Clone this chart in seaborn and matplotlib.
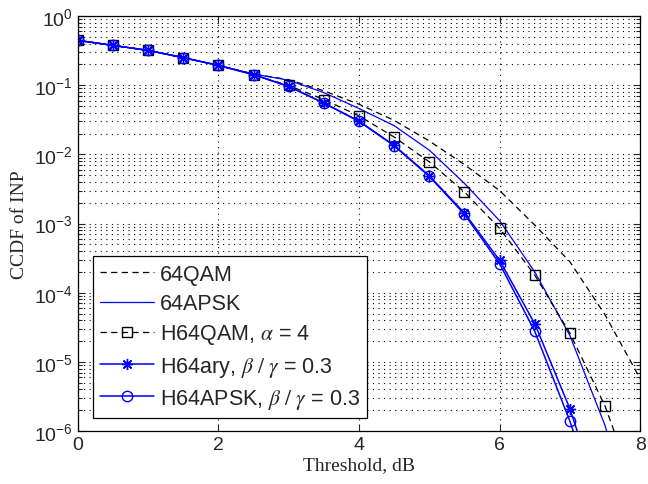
import numpy as np
import pandas as pd
import matplotlib
matplotlib.use("Agg")
import matplotlib.pyplot as plt
import seaborn as sns

# ---------------------------------------
# Data (CCDF of INP)
# ---------------------------------------
threshold = [0.0, 0.5, 1.0, 1.5, 2.0, 2.5, 3.0, 3.5, 4.0,
             4.5, 5.0, 5.5, 6.0, 6.5, 7.0, 7.5, 8.0]

qam64 = [0.444, 0.376, 0.318, 0.250, 0.193, 0.145, 0.120, 0.083, 0.053,
         0.031, 0.0156, 7.1e-3, 3.0e-3, 9.5e-4, 2.8e-4, 4.8e-5, 5.7e-6]
apsk64 = [0.444, 0.376, 0.318, 0.250, 0.193, 0.145, 0.118, 0.078, 0.046,
          0.026, 0.0115, 3.8e-3, 1.1e-3, 2.0e-4, 2.4e-5, 1.2e-6, 2e-8]
h64qam = [0.444, 0.376, 0.318, 0.250, 0.193, 0.142, 0.099, 0.062, 0.036,
          0.0178, 7.8e-3, 2.86e-3, 8.5e-4, 1.8e-4, 2.6e-5, 2.3e-6, 9e-8]
h64ary = [0.444, 0.376, 0.318, 0.250, 0.193, 0.142, 0.096, 0.0553, 0.0302,
          0.0135, 4.9e-3, 1.42e-3, 2.94e-4, 3.57e-5, 2.1e-6, 6e-8, 1e-9]
h64apsk = [0.444, 0.376, 0.318, 0.250, 0.193, 0.142, 0.096, 0.055, 0.030,
           0.0133, 4.8e-3, 1.36e-3, 2.63e-4, 2.77e-5, 1.39e-6, 4e-8, 5e-10]

labels = ["64QAM", "64APSK", r"H64QAM, $\alpha$ = 4",
          r"H64ary, $\beta\ /\ \gamma$ = 0.3", r"H64APSK, $\beta\ /\ \gamma$ = 0.3"]

# ---------------------------------------
# Style
# ---------------------------------------
sns.set_style("ticks")
plt.rcParams['font.family'] = ['Liberation Sans', 'DejaVu Sans']
plt.rcParams['mathtext.fontset'] = 'stix'

fig = plt.figure(figsize=(6.48, 4.85), dpi=100)
ax = fig.add_axes([0.120, 0.109, 0.868, 0.856])

series = [qam64, apsk64, h64qam, h64ary, h64apsk]
styles = [
    dict(color='black', linestyle=(0, (5, 3.5)), marker=None, lw=0.9),
    dict(color='blue', linestyle='-', marker=None, lw=0.9),
    dict(color='black', linestyle=(0, (5, 3.5)), marker='s', ms=7.5, lw=0.9),
    dict(color='blue', linestyle='-', marker=(8, 2, 0), ms=8, lw=1.1),
    dict(color='blue', linestyle='-', marker='o', ms=7.5, lw=1.1),
]

for vals, lab, st in zip(series, labels, styles):
    kw = dict(color=st['color'], linestyle=st['linestyle'], linewidth=st['lw'])
    if st['marker'] is not None:
        kw.update(marker=st['marker'], markersize=st['ms'],
                  markerfacecolor='none', markeredgecolor=st['color'],
                  markeredgewidth=1.0)
    sns.lineplot(x=threshold, y=vals, ax=ax, label=lab, **kw)

ax.set_yscale('log')
ax.set_xlim(0, 8)
ax.set_ylim(1e-6, 1)
ax.set_xticks([0, 2, 4, 6, 8])
ax.set_yticks([1e-6, 1e-5, 1e-4, 1e-3, 1e-2, 1e-1, 1e0])

ax.grid(True, which='major', axis='both', color='black', linestyle=(0, (1, 4)), linewidth=0.8)
ax.grid(True, which='minor', axis='y', color='black', linestyle=(0, (1, 4)), linewidth=0.8)
ax.tick_params(which='both', direction='in', top=True, right=True, labelsize=14, width=0.8)
ax.tick_params(which='major', length=5)
ax.tick_params(which='minor', length=3)
for s in ax.spines.values():
    s.set_linewidth(0.9)
    s.set_color('black')

ax.set_xlabel("Threshold, dB", fontsize=14, family='Liberation Serif', labelpad=2)
ax.set_ylabel("CCDF of INP", fontsize=14, family='Liberation Serif', labelpad=4)

leg = ax.legend(loc='lower left', bbox_to_anchor=(0.027, 0.031), borderaxespad=0,
                fontsize=15.5, frameon=True, fancybox=False, framealpha=1,
                edgecolor='black', handlelength=2.5, handletextpad=0.25,
                labelspacing=0.38, borderpad=0.35)
leg.get_frame().set_linewidth(0.9)

fig.savefig("out.png", dpi=100)
